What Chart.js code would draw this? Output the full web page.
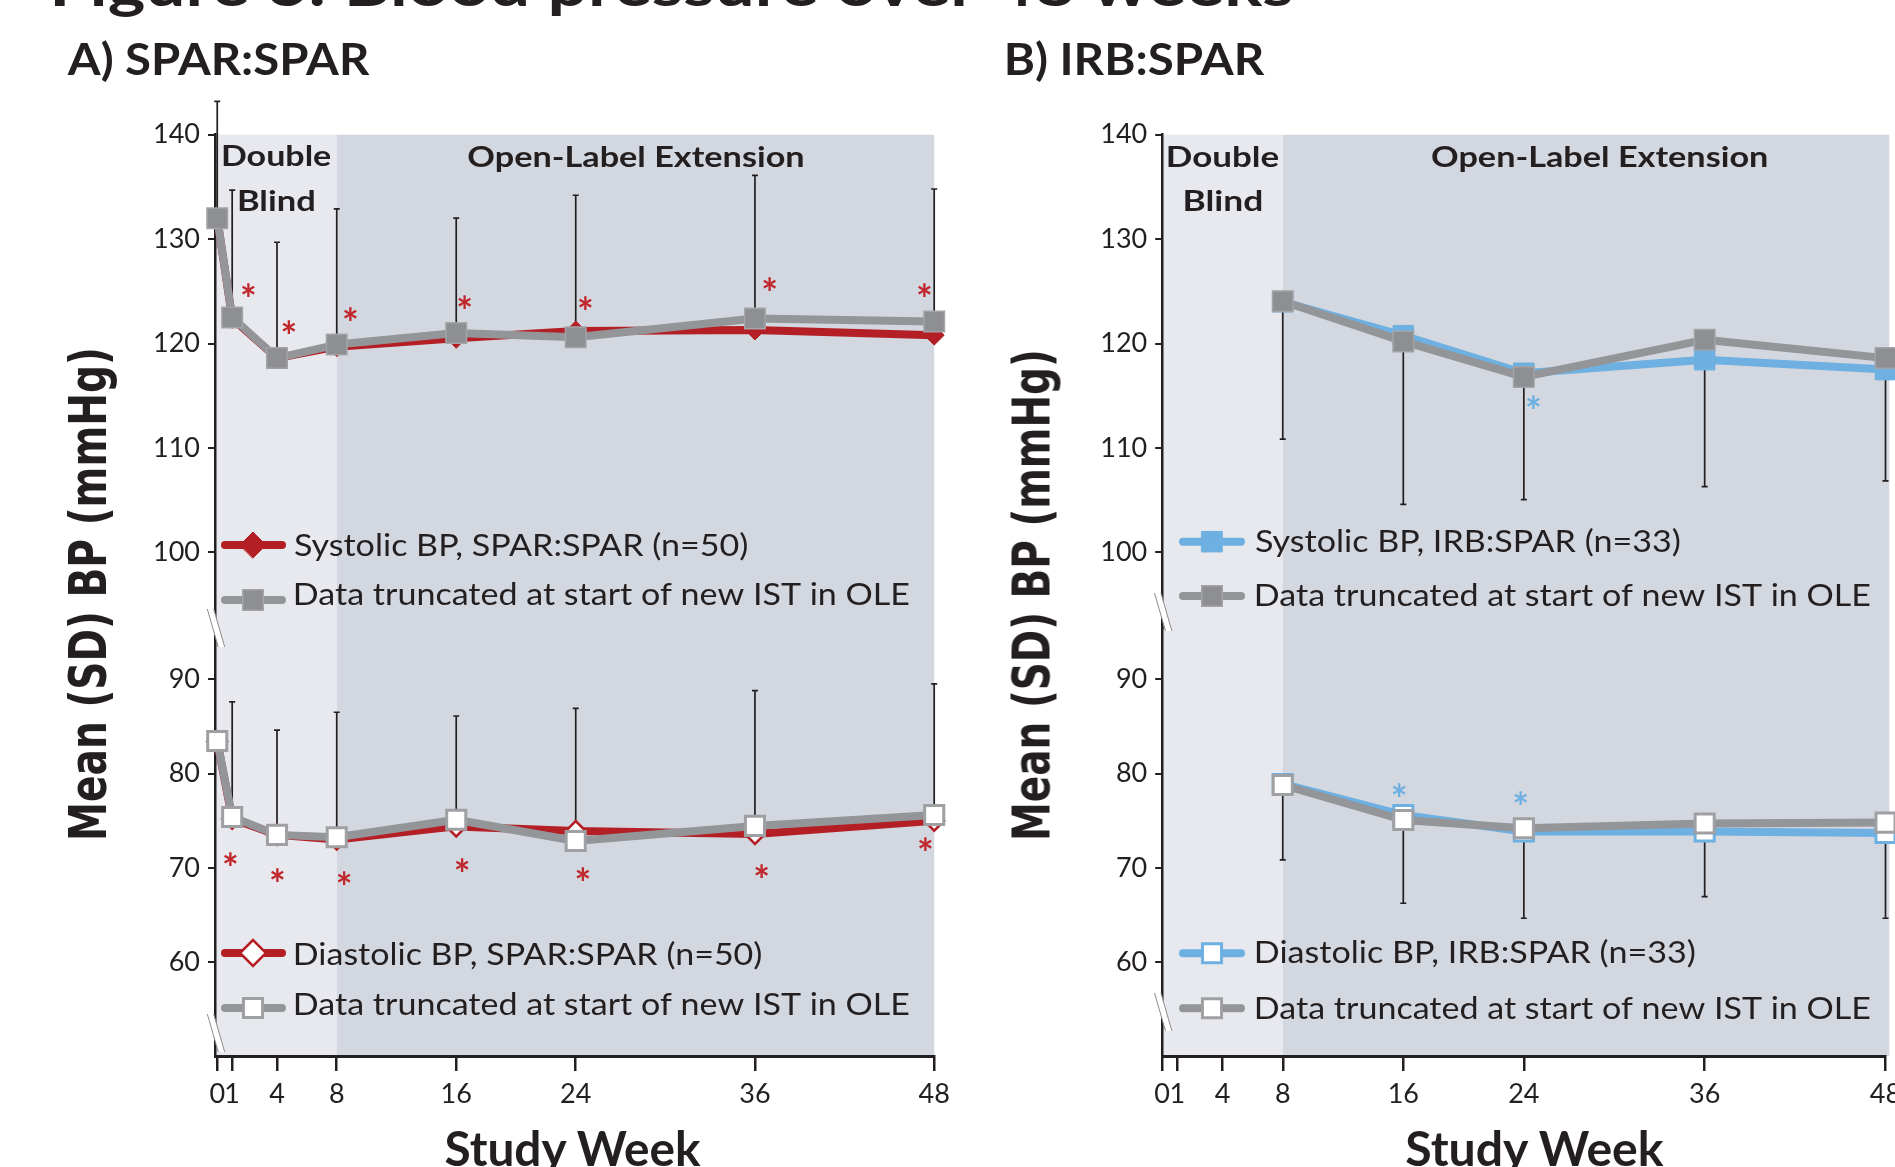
<!DOCTYPE html>
<html>
<head>
<meta charset="utf-8">
<title>Figure 3: Blood pressure over 48 weeks</title>
<script src="https://cdn.jsdelivr.net/npm/chart.js@4.4.1/dist/chart.umd.min.js"></script>
<style>
  html, body { margin: 0; padding: 0; background: #fff; }
  body { position: relative; width: 1895px; height: 1167px; overflow: hidden; }
  canvas { position: absolute; top: 0; }
  #chartA { left: 0; }
  #chartB { left: 950px; }
  .txt { position: absolute; left: 0; top: 0; white-space: nowrap; color: #231f20; transform-origin: 0 0; }
</style>
</head>
<body>
<canvas id="chartA" width="960" height="1167" style="width:960px;height:1167px"></canvas>
<canvas id="chartB" width="1000" height="1167" style="width:1000px;height:1167px"></canvas>
<script>
// ---- data ----
var weeksA = [0, 1, 4, 8, 16, 24, 36, 48];
var weeksB = [8, 16, 24, 36, 48];
var weekTicks = [0, 1, 4, 8, 16, 24, 36, 48];
var sysTicks = [100, 110, 120, 130, 140];
var diaTicks = [60, 70, 80, 90];

// A) SPAR:SPAR
var sysSpar      = [132.0, 122.4, 118.6, 119.7, 120.5, 121.2, 121.3, 120.8];
var sysSparTrunc = [132.0, 122.5, 118.6, 119.9, 121.0, 120.6, 122.4, 122.1];
var sysSparSdHi  = [143.2, 134.7, 129.7, 132.9, 132.0, 134.2, 136.1, 134.8];
var diaSpar      = [83.4, 75.2, 73.5, 73.0, 74.4, 73.9, 73.6, 75.0];
var diaSparTrunc = [83.45, 75.4, 73.5, 73.25, 75.1, 72.85, 74.45, 75.6];
var diaSparSdHi  = [null, 87.6, 84.6, 86.5, 86.1, 86.9, 88.8, 89.5];
var sysSparStars = [[2.1, 125.1], [4.8, 121.6], [8.92, 122.8], [16.57, 124.0], [24.66, 123.9], [36.99, 125.7], [47.35, 125.1]];
var diaSparStars = [[0.88, 70.95], [4.04, 69.25], [8.5, 68.9], [16.41, 70.35], [24.48, 69.35], [36.46, 69.7], [47.41, 72.55]];

// B) IRB:SPAR
var sysIrb      = [124.0, 120.75, 117.15, 118.45, 117.5];
var sysIrbTrunc = [124.05, 120.2, 116.8, 120.35, 118.6];
var sysIrbSdLo  = [110.85, 104.6, 105.05, 106.3, 106.85];
var diaIrb      = [78.9, 75.6, 73.85, 73.85, 73.7];
var diaIrbTrunc = [78.79, 75.08, 74.2, 74.7, 74.8];
var diaIrbSdLo  = [70.84, 66.25, 64.66, 66.95, 64.66];
var sysIrbStars = [[24.64, 114.4]];
var diaIrbStars = [[15.73, 78.26], [23.79, 77.38]];

var figTitle = 'Figure 3: Blood pressure over 48 weeks';
var panelTitles = ['A) SPAR:SPAR', 'B) IRB:SPAR'];
var yTitle = 'Mean (SD) BP (mmHg)';
var xTitle = 'Study Week';
var phaseLabels = ['Double', 'Blind', 'Open-Label Extension'];
var legendA = ['Systolic BP, SPAR:SPAR (n=50)', 'Data truncated at start of new IST in OLE',
               'Diastolic BP, SPAR:SPAR (n=50)', 'Data truncated at start of new IST in OLE'];
var legendB = ['Systolic BP, IRB:SPAR (n=33)', 'Data truncated at start of new IST in OLE',
               'Diastolic BP, IRB:SPAR (n=33)', 'Data truncated at start of new IST in OLE'];

// ---- styles ----
var RED = '#b41f25', BLUE = '#6db0e1', GRAY = '#939598', INK = '#231f20';
var SHADE_DB = '#e8e9ee', SHADE_OLE = '#d3d7df';

var ptGraySolid = {style: 'rect', r: 14.5, fill: '#8e8f92', stroke: '#a3a4a7', bw: 1.5};
var ptGrayOpen  = {style: 'rect', r: 13.5, fill: '#ffffff', stroke: '#9fa0a3', bw: 3};
var ptRedSolid  = {style: 'rectRot', r: 13, fill: RED, stroke: RED, bw: 1};
var ptRedOpen   = {style: 'rectRot', r: 13, fill: '#ffffff', stroke: RED, bw: 2.5};
var ptBlueSolid = {style: 'rect', r: 14.5, fill: BLUE, stroke: BLUE, bw: 1};
var ptBlueOpen  = {style: 'rect', r: 13.5, fill: '#ffffff', stroke: BLUE, bw: 3};

function series(xs, ys, axis, color, pt, order, r) {
  return {
    data: xs.map(function (x, i) { return {x: x, y: ys[i]}; }),
    yAxisID: axis,
    borderColor: color,
    borderWidth: 8,
    borderJoinStyle: 'round',
    tension: 0,
    fill: false,
    clip: false,
    order: order,
    pointStyle: pt.style,
    pointRadius: r || pt.r,
    pointHoverRadius: r || pt.r,
    pointBackgroundColor: pt.fill,
    pointBorderColor: pt.stroke,
    pointBorderWidth: pt.bw
  };
}

function fitText(ctx, str, x, base, width, font, color) {
  ctx.save();
  ctx.font = font;
  ctx.fillStyle = color;
  ctx.textAlign = 'left';
  ctx.textBaseline = 'alphabetic';
  var m = ctx.measureText(str);
  var k = width / (m.actualBoundingBoxLeft + m.actualBoundingBoxRight);
  ctx.translate(x + m.actualBoundingBoxLeft * k, base);
  ctx.scale(k, 1);
  ctx.fillText(str, 0, 0);
  ctx.restore();
}

function drawMarker(ctx, pt, x, y) {
  ctx.beginPath();
  if (pt.style === 'rect') {
    var h = pt.r * Math.SQRT1_2;
    ctx.rect(x - h, y - h, 2 * h, 2 * h);
  } else {
    ctx.moveTo(x - pt.r, y); ctx.lineTo(x, y - pt.r);
    ctx.lineTo(x + pt.r, y); ctx.lineTo(x, y + pt.r);
    ctx.closePath();
  }
  ctx.fillStyle = pt.fill; ctx.fill();
  ctx.lineWidth = pt.bw; ctx.strokeStyle = pt.stroke; ctx.stroke();
}

// asterisk sized to ~13px ink width, centred on (x, y)
function drawStar(ctx, x, y, color) {
  ctx.save();
  ctx.font = 'bold 100px Lato';
  var m0 = ctx.measureText('*');
  var size = 100 * 13 / (m0.actualBoundingBoxLeft + m0.actualBoundingBoxRight);
  ctx.font = 'bold ' + size.toFixed(1) + 'px Lato';
  ctx.fillStyle = color;
  ctx.textAlign = 'left';
  ctx.textBaseline = 'alphabetic';
  var m = ctx.measureText('*');
  var w = m.actualBoundingBoxLeft + m.actualBoundingBoxRight;
  var h = m.actualBoundingBoxAscent + m.actualBoundingBoxDescent;
  ctx.fillText('*', x - w / 2 + m.actualBoundingBoxLeft, y + h / 2 - m.actualBoundingBoxDescent);
  ctx.restore();
}

function drawBreak(ctx, cx, cy) {
  var dx = 5.5, dy = 19, g = 3.2;
  ctx.save();
  ctx.beginPath();
  ctx.moveTo(cx - dx - g, cy - dy); ctx.lineTo(cx - dx + g, cy - dy);
  ctx.lineTo(cx + dx + g, cy + dy); ctx.lineTo(cx + dx - g, cy + dy);
  ctx.closePath();
  ctx.fillStyle = '#ffffff'; ctx.fill();
  ctx.strokeStyle = '#8c8c8c'; ctx.lineWidth = 1;
  ctx.beginPath();
  ctx.moveTo(cx - dx - g, cy - dy); ctx.lineTo(cx + dx - g, cy + dy);
  ctx.moveTo(cx - dx + g, cy - dy); ctx.lineTo(cx + dx + g, cy + dy);
  ctx.stroke();
  ctx.restore();
}

function panelPlugin(p) {
  return {
    id: 'panel' + p.ox,
    beforeDraw: function (chart) {
      var ctx = chart.ctx, a = chart.chartArea, xs = chart.scales.x;
      var x8 = xs.getPixelForValue(8), xe = xs.getPixelForValue(p.shadeEnd);
      ctx.save();
      ctx.fillStyle = SHADE_DB; ctx.fillRect(a.left, a.top, x8 - a.left, a.bottom - a.top);
      ctx.fillStyle = SHADE_OLE; ctx.fillRect(x8, a.top, xe - x8, a.bottom - a.top);
      ctx.restore();
    },
    beforeDatasetsDraw: function (chart) {
      var ctx = chart.ctx, xs = chart.scales.x;
      p.phase.forEach(function (t, i) {
        fitText(ctx, phaseLabels[i], t.x - p.ox, t.b, t.w, 'bold 29px Lato', INK);
      });
      ctx.save();
      ctx.strokeStyle = INK; ctx.lineWidth = 1.7;
      p.errors.forEach(function (e) {
        var ys = chart.scales[e.axis];
        e.x.forEach(function (w, i) {
          if (e.to[i] == null) return;
          var x = xs.getPixelForValue(w);
          var y0 = ys.getPixelForValue(e.from[i]), y1 = ys.getPixelForValue(e.to[i]);
          ctx.beginPath();
          ctx.moveTo(x, y0); ctx.lineTo(x, y1);
          ctx.moveTo(x - 3, y1); ctx.lineTo(x + 3, y1);
          ctx.stroke();
        });
      });
      ctx.restore();
    },
    afterDatasetsDraw: function (chart) {
      var ctx = chart.ctx, xs = chart.scales.x;
      p.stars.forEach(function (s) {
        var ys = chart.scales[s.axis];
        s.pts.forEach(function (q) {
          drawStar(ctx, xs.getPixelForValue(q[0]), ys.getPixelForValue(q[1]), s.color);
        });
      });
      var L = p.legend;
      L.rows.forEach(function (r, i) {
        ctx.save();
        ctx.strokeStyle = r.line; ctx.lineWidth = 8; ctx.lineCap = 'round';
        ctx.beginPath(); ctx.moveTo(L.x0 - p.ox, r.y); ctx.lineTo(L.x1 - p.ox, r.y); ctx.stroke();
        drawMarker(ctx, r.pt, L.mx - p.ox, r.y);
        ctx.restore();
        fitText(ctx, L.labels[i], L.tx - p.ox, r.b, r.w, '31px Lato', INK);
      });
    },
    afterDraw: function (chart) {
      var ctx = chart.ctx, a = chart.chartArea;
      p.breaks.forEach(function (b) {
        drawBreak(ctx, a.left + 1, chart.scales[b.axis].getPixelForValue(b.v));
      });
    }
  };
}

function yScale(min, max, ticks, weight) {
  return {
    type: 'linear', position: 'left', stack: 'bp', stackWeight: weight,
    min: min, max: max,
    afterBuildTicks: function (s) { s.ticks = ticks.map(function (v) { return {value: v}; }); },
    afterFit: function (s) { s.width = 100; },
    grid: {drawOnChartArea: false, drawTicks: true, tickLength: 7, color: INK, lineWidth: 2},
    border: {display: true, color: INK, width: 2.5},
    ticks: {color: INK, font: {family: 'Lato', size: 27}, padding: 8}
  };
}

function buildChart(id, p, datasets) {
  return new Chart(document.getElementById(id), {
    type: 'line',
    data: {datasets: datasets},
    options: {
      responsive: false,
      animation: false,
      events: [],
      layout: {padding: p.padding},
      plugins: {legend: {display: false}, tooltip: {enabled: false}, title: {display: false}},
      scales: {
        x: {
          type: 'linear', min: p.xMin, max: 48,
          afterBuildTicks: function (s) { s.ticks = weekTicks.map(function (v) { return {value: v}; }); },
          afterFit: function (s) { s.height = 60; },
          grid: {drawOnChartArea: false, drawTicks: true, tickLength: 15, color: INK, lineWidth: 2.5},
          border: {display: true, color: INK, width: 3},
          ticks: {color: INK, font: {family: 'Lato', size: 27}, padding: 7, maxRotation: 0, autoSkip: false}
        },
        yD: yScale(50.06, 95.43, diaTicks, 428),
        yS: yScale(92.75, 140, sysTicks, 493.3)
      }
    },
    plugins: [panelPlugin(p)]
  });
}

var panelA = {
  ox: 0, xMin: -0.15, shadeEnd: 48,
  padding: {left: 115, top: 134.7, right: 25.8, bottom: 51},
  phase: [{x: 223.3, b: 166, w: 107.4}, {x: 239.3, b: 211, w: 74.7}, {x: 468.5, b: 167, w: 334.5}],
  errors: [{axis: 'yS', x: weeksA, from: sysSparTrunc, to: sysSparSdHi},
           {axis: 'yD', x: weeksA, from: diaSparTrunc, to: diaSparSdHi}],
  stars: [{axis: 'yS', pts: sysSparStars, color: '#c0272d'}, {axis: 'yD', pts: diaSparStars, color: '#c0272d'}],
  breaks: [{axis: 'yS', v: 92.75}, {axis: 'yD', v: 52.5}],
  legend: {
    x0: 225, x1: 282, mx: 253, tx: 295, labels: legendA,
    rows: [{y: 545, b: 556, w: 452, line: RED, pt: ptRedSolid},
           {y: 600, b: 605, w: 614, line: GRAY, pt: ptGraySolid},
           {y: 953, b: 965, w: 466, line: RED, pt: ptRedOpen},
           {y: 1008, b: 1015, w: 614, line: GRAY, pt: ptGrayOpen}]
  }
};

var panelB = {
  ox: 950, xMin: 0, shadeEnd: 48.25,
  padding: {left: 112.2, top: 134.7, right: 64.5, bottom: 51},
  phase: [{x: 1168.2, b: 166.5, w: 110.3}, {x: 1185, b: 211, w: 76.6}, {x: 1432.2, b: 167, w: 334.6}],
  errors: [{axis: 'yS', x: weeksB, from: sysIrbTrunc, to: sysIrbSdLo},
           {axis: 'yD', x: weeksB, from: diaIrbTrunc, to: diaIrbSdLo}],
  stars: [{axis: 'yS', pts: sysIrbStars, color: BLUE}, {axis: 'yD', pts: diaIrbStars, color: BLUE}],
  breaks: [{axis: 'yS', v: 94.28}, {axis: 'yD', v: 54.73}],
  legend: {
    x0: 1183, x1: 1241, mx: 1212, tx: 1256, labels: legendB,
    rows: [{y: 541.7, b: 551.7, w: 423.5, line: BLUE, pt: ptBlueSolid},
           {y: 596, b: 606, w: 614, line: GRAY, pt: ptGraySolid},
           {y: 953.3, b: 963.3, w: 438.5, line: BLUE, pt: ptBlueOpen},
           {y: 1008.3, b: 1019, w: 614, line: GRAY, pt: ptGrayOpen}]
  }
};

buildChart('chartA', panelA, [
  series(weeksA, sysSparTrunc, 'yS', GRAY, ptGraySolid, 1),
  series(weeksA, sysSpar, 'yS', RED, ptRedSolid, 2, 10),
  series(weeksA, diaSparTrunc, 'yD', GRAY, ptGrayOpen, 1),
  series(weeksA, diaSpar, 'yD', RED, ptRedOpen, 2, 10)
]);

buildChart('chartB', panelB, [
  series(weeksB, sysIrbTrunc, 'yS', GRAY, ptGraySolid, 1),
  series(weeksB, sysIrb, 'yS', BLUE, ptBlueSolid, 2),
  series(weeksB, diaIrbTrunc, 'yD', GRAY, ptGrayOpen, 1),
  series(weeksB, diaIrb, 'yD', BLUE, ptBlueOpen, 2)
]);

// ---- titles as page text ----
var mctx = document.createElement('canvas').getContext('2d');
function pageText(str, left, base, width, size, weight, family, rotated) {
  var font = weight + ' ' + size + 'px ' + family;
  mctx.font = font;
  var m = mctx.measureText(str);
  var k = width / (m.actualBoundingBoxLeft + m.actualBoundingBoxRight);
  var asc = m.fontBoundingBoxAscent, desc = m.fontBoundingBoxDescent;
  var el = document.createElement('div');
  el.className = 'txt';
  el.textContent = str;
  el.style.font = font;
  el.style.lineHeight = (asc + desc) + 'px';
  if (!rotated) {
    el.style.transform = 'translate(' + (left + m.actualBoundingBoxLeft * k) + 'px,' + (base - asc) + 'px) scaleX(' + k + ')';
  } else {
    // left = x of baseline, base = y where the text starts (reads upward)
    el.style.transform = 'translate(' + (left - asc) + 'px,' + (base - k * m.actualBoundingBoxLeft) + 'px) rotate(-90deg) scaleX(' + k + ')';
  }
  document.body.appendChild(el);
}

pageText(figTitle, 54, 6, 1241, 60, 'bold', 'Lato');
pageText(panelTitles[0], 66.7, 74.6, 303, 43, 'bold', 'Lato');
pageText(panelTitles[1], 1007, 74.6, 257.6, 43, 'bold', 'Lato');
pageText(yTitle, 106, 838, 488, 52, 'bold', '"DejaVu Sans"', true);
pageText(yTitle, 1049.5, 838, 486, 52, 'bold', '"DejaVu Sans"', true);
pageText(xTitle, 445.5, 1166, 257.5, 47, 'bold', 'Lato');
pageText(xTitle, 1406.3, 1166, 259.7, 47, 'bold', 'Lato');
</script>
</body>
</html>
